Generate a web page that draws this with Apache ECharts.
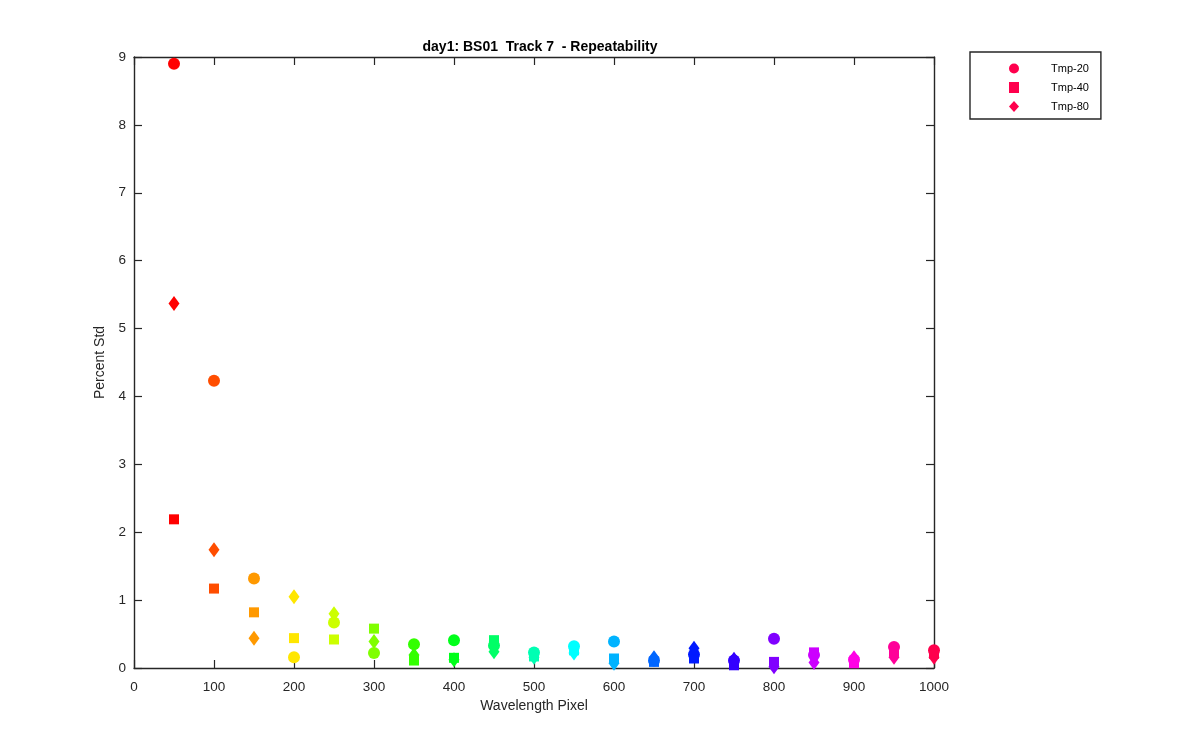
<!DOCTYPE html>
<html>
<head>
<meta charset="utf-8">
<script src="https://cdn.jsdelivr.net/npm/echarts@6/dist/echarts.min.js"></script>
<style>html,body{margin:0;padding:0;background:#fff;}#chart{width:1200px;height:750px;}</style>
</head>
<body>
<div id="chart"></div>
<script>
// Data
const wavelengthPixels = [50,100,150,200,250,300,350,400,450,500,550,600,650,700,750,800,850,900,950,1000];
const tmp20 = [8.90,4.23,1.32,0.16,0.67,0.22,0.35,0.41,0.33,0.23,0.32,0.39,0.11,0.20,0.11,0.43,0.19,0.12,0.31,0.26];
const tmp40 = [2.19,1.17,0.82,0.44,0.42,0.58,0.11,0.15,0.41,0.17,0.26,0.14,0.09,0.14,0.04,0.09,0.23,0.07,0.24,0.21];
const tmp80 = [5.37,1.74,0.44,1.05,0.80,0.39,0.19,0.12,0.24,0.16,0.22,0.07,0.15,0.29,0.13,0.02,0.08,0.15,0.16,0.16];
const seriesNames = ['Tmp-20','Tmp-40','Tmp-80'];
const xTicks = [0,100,200,300,400,500,600,700,800,900,1000];
const yTicks = [0,1,2,3,4,5,6,7,8,9];

// Styles (hsv colormap, one colour per wavelength pixel)
const pointColors = ['#ff0000','#ff4d00','#ff9900','#ffe600','#ccff00','#80ff00','#33ff00','#00ff1a','#00ff66','#00ffb3',
                     '#00ffff','#00b3ff','#0066ff','#001aff','#3300ff','#8000ff','#cc00ff','#ff00e6','#ff0099','#ff004d'];
const legendColor = '#ff004d';
const axisColor = '#262626';
const fontFamily = '"Liberation Sans", Arial, Helvetica, sans-serif';

function pairs(ys){ return wavelengthPixels.map((x,i)=>[x, ys[i]]); }

const chart = echarts.init(document.getElementById('chart'), null, {renderer:'canvas'});

const axisCommon = {
  axisLine:{show:true, onZero:false, lineStyle:{color:axisColor, width:1.4}},
  axisTick:{show:true, inside:true, length:8, lineStyle:{color:axisColor, width:1.2}},
  splitLine:{show:false}
};

function mkSeries(name, ys, symbol, size){
  return {
    name, type:'scatter', data:pairs(ys), symbol, symbolSize:size,
    itemStyle:{ color:(p)=>pointColors[p.dataIndex], opacity:1 },
    emphasis:{disabled:true},
    z:3
  };
}

const option = {
  animation:false,
  backgroundColor:'#ffffff',
  title:{
    text:'day1: BS01  Track 7  - Repeatability',
    left:535, top:35, textAlign:'center',
    textStyle:{fontFamily, fontSize:14, fontWeight:'bold', color:'#000'}
  },
  legend:{
    orient:'vertical', left:970, top:52,
    padding:[11,12,7,39],
    itemWidth:10, itemHeight:11, itemGap:8,
    borderColor:axisColor, borderWidth:1.4,
    data:[
      {name:seriesNames[0], icon:'circle', itemStyle:{color:legendColor}},
      {name:seriesNames[1], icon:'rect', itemStyle:{color:legendColor}},
      {name:seriesNames[2], icon:'diamond', itemStyle:{color:legendColor}}
    ],
    formatter:(n)=>'{a|'+n+'}',
    textStyle:{fontFamily, fontSize:11, color:'#000', rich:{a:{fontFamily, fontSize:11, color:'#000', padding:[0,0,0,27]}}},
    selectedMode:false
  },
  grid:{left:134, right:266, top:57, bottom:82, containLabel:false},
  xAxis:[
    Object.assign({}, axisCommon, {
      type:'value', min:xTicks[0], max:xTicks[xTicks.length-1], interval:xTicks[1]-xTicks[0], position:'bottom',
      name:'Wavelength Pixel', nameLocation:'middle', nameGap:30,
      nameTextStyle:{fontFamily, fontSize:14, color:axisColor},
      axisLabel:{fontFamily, fontSize:13.5, color:axisColor, margin:12, formatter:(v)=>String(v)}
    }),
    Object.assign({}, axisCommon, {
      type:'value', min:xTicks[0], max:xTicks[xTicks.length-1], interval:xTicks[1]-xTicks[0], position:'top',
      axisLabel:{show:false}
    })
  ],
  yAxis:[
    Object.assign({}, axisCommon, {
      type:'value', min:yTicks[0], max:yTicks[yTicks.length-1], interval:yTicks[1]-yTicks[0], position:'left',
      name:'Percent Std', nameLocation:'middle', nameGap:23,
      nameTextStyle:{fontFamily, fontSize:14, color:axisColor},
      axisLabel:{fontFamily, fontSize:13.5, color:axisColor, margin:8, formatter:(v)=>String(v)}
    }),
    Object.assign({}, axisCommon, {
      type:'value', min:yTicks[0], max:yTicks[yTicks.length-1], interval:yTicks[1]-yTicks[0], position:'right',
      axisLabel:{show:false}
    })
  ],
  series:[
    mkSeries(seriesNames[0], tmp20, 'circle', 12),
    mkSeries(seriesNames[1], tmp40, 'rect', 10),
    mkSeries(seriesNames[2], tmp80, 'diamond', [11,15])
  ]
};
chart.setOption(option);
</script>
</body>
</html>
